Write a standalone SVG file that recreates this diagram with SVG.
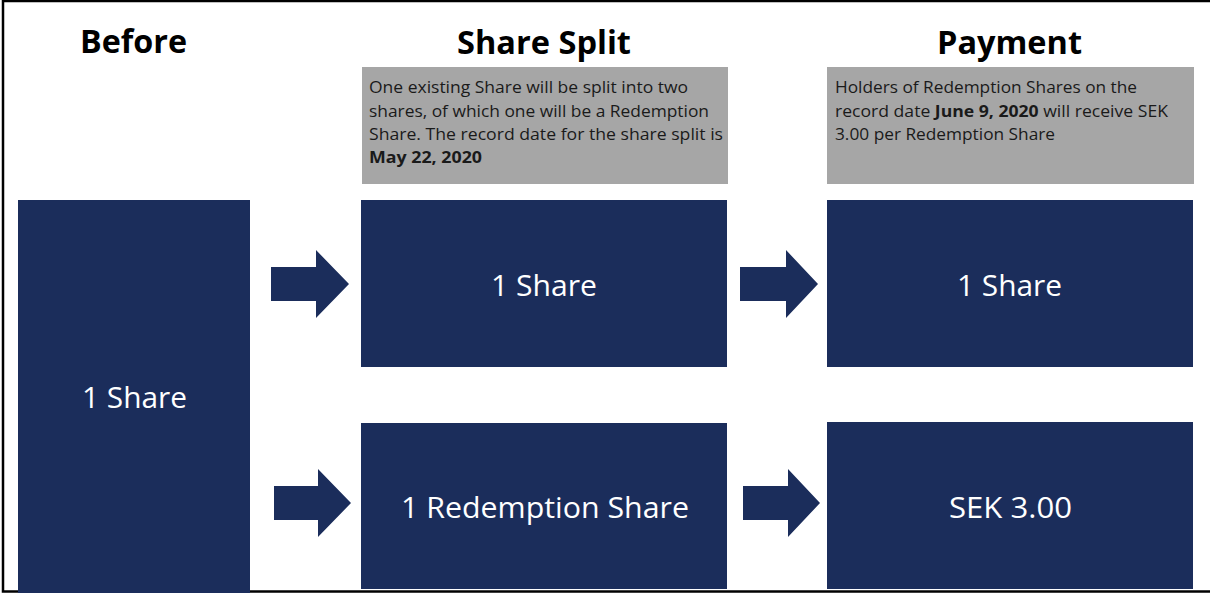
<svg xmlns="http://www.w3.org/2000/svg" width="1210" height="593" viewBox="0 0 1210 593">
<style>
.bg{fill:#ffffff}
.frame{fill:none;stroke:#000000;stroke-width:2.5}
.box{fill:#1b2d5b}
.note{fill:#a6a6a6}
.title{font-family:"Open Sans","Liberation Sans",sans-serif;font-weight:bold;font-size:33px;fill:#000000;text-anchor:middle}
.label{font-family:"Open Sans","Liberation Sans",sans-serif;font-size:29px;fill:#ffffff;text-anchor:middle}
.ntext{font-family:"Open Sans","Liberation Sans",sans-serif;font-size:16px;fill:#1a1a1a}
.b{font-weight:bold}
.arrow{fill:#1b2d5b}
</style>
<rect class="bg" x="0" y="0" width="1210" height="593"/>
<rect class="frame" x="3" y="1" width="1300" height="590.5"/>

<g id="title-before"><text class="title" x="133.5" y="53" textLength="107" lengthAdjust="spacingAndGlyphs">Before</text></g>
<g id="title-split"><text class="title" x="544" y="54" textLength="174" lengthAdjust="spacingAndGlyphs">Share Split</text></g>
<g id="title-payment"><text class="title" x="1009.5" y="54" textLength="145" lengthAdjust="spacingAndGlyphs">Payment</text></g>

<g id="note-split">
<rect class="note" x="362" y="67" width="366" height="117"/>
<text class="ntext" x="369" y="93" textLength="319" lengthAdjust="spacingAndGlyphs">One existing Share will be split into two</text>
<text class="ntext" x="369" y="117" textLength="340" lengthAdjust="spacingAndGlyphs">shares, of which one will be a Redemption</text>
<text class="ntext" x="369" y="140" textLength="354" lengthAdjust="spacingAndGlyphs">Share. The record date for the share split is</text>
<text class="ntext b" x="369" y="163" textLength="113" lengthAdjust="spacingAndGlyphs">May 22, 2020</text>
</g>

<g id="note-payment">
<rect class="note" x="827" y="67" width="367" height="117"/>
<text class="ntext" x="835" y="93" textLength="302" lengthAdjust="spacingAndGlyphs">Holders of Redemption  Shares on the</text>
<text class="ntext" x="835" y="117" textLength="333" lengthAdjust="spacingAndGlyphs">record date  <tspan class="b">June 9, 2020</tspan> will receive SEK</text>
<text class="ntext" x="835" y="140" textLength="220" lengthAdjust="spacingAndGlyphs">3.00 per Redemption Share</text>
</g>

<g id="before-share">
<rect class="box" x="18" y="200" width="232" height="393"/>
<text class="label" x="134.5" y="408" textLength="105" lengthAdjust="spacingAndGlyphs">1 Share</text>
</g>

<g id="split-share">
<rect class="box" x="361" y="200" width="366" height="167"/>
<text class="label" x="544" y="296" textLength="106" lengthAdjust="spacingAndGlyphs">1 Share</text>
</g>

<g id="split-redemption">
<rect class="box" x="361" y="423" width="366" height="166"/>
<text class="label" x="545" y="518" textLength="288" lengthAdjust="spacingAndGlyphs">1 Redemption  Share</text>
</g>

<g id="payment-share">
<rect class="box" x="827" y="200" width="366" height="167"/>
<text class="label" x="1009.5" y="296" textLength="105" lengthAdjust="spacingAndGlyphs">1 Share</text>
</g>

<g id="payment-sek">
<rect class="box" x="827" y="422" width="366" height="167"/>
<text class="label" x="1010.5" y="518" textLength="123" lengthAdjust="spacingAndGlyphs">SEK 3.00</text>
</g>

<g id="connectors">
<polygon class="arrow" points="271,267 316,267 316,250 349,284 316,318 316,301 271,301"/>
<polygon class="arrow" points="274,486 318,486 318,469 351,503 318,537 318,520 274,520"/>
<polygon class="arrow" points="740,267 786,267 786,250 818,284 786,318 786,301 740,301"/>
<polygon class="arrow" points="743,486 788,486 788,469 820,503 788,537 788,520 743,520"/>
</g>
</svg>
